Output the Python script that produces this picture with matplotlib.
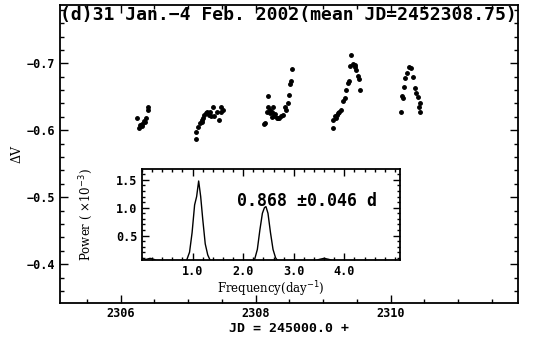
import matplotlib
matplotlib.use('Agg')
import matplotlib.pyplot as plt
from matplotlib.ticker import MultipleLocator, FixedLocator

# light curve: JD - 2450000 and Delta V, one list per night
jd1 = [2306.24, 2306.27, 2306.28, 2306.31, 2306.32, 2306.34, 2306.36, 2306.37, 2306.40, 2306.40]
dv1 = [-0.618, -0.604, -0.608, -0.606, -0.610, -0.614, -0.613, -0.619, -0.630, -0.635]

jd2 = [2307.12, 2307.12, 2307.15, 2307.17, 2307.20, 2307.21, 2307.22, 2307.24, 2307.26, 2307.28,
       2307.31, 2307.33, 2307.34, 2307.37, 2307.39, 2307.43, 2307.46, 2307.48, 2307.49, 2307.51]
dv2 = [-0.587, -0.598, -0.605, -0.611, -0.613, -0.615, -0.618, -0.623, -0.626, -0.628,
       -0.623, -0.627, -0.621, -0.635, -0.621, -0.628, -0.615, -0.634, -0.628, -0.630]

jd3 = [2308.13, 2308.14, 2308.18, 2308.17, 2308.18, 2308.21, 2308.22, 2308.25, 2308.26, 2308.25,
       2308.27, 2308.28, 2308.31, 2308.33, 2308.35, 2308.37, 2308.40, 2308.43, 2308.45, 2308.48,
       2308.50, 2308.51, 2308.53, 2308.54]
dv3 = [-0.609, -0.611, -0.651, -0.628, -0.634, -0.626, -0.630, -0.628, -0.634, -0.620,
       -0.622, -0.625, -0.619, -0.618, -0.619, -0.621, -0.623, -0.635, -0.630, -0.641,
       -0.653, -0.669, -0.674, -0.692]

jd4 = [2309.14, 2309.15, 2309.17, 2309.19, 2309.20, 2309.22, 2309.24, 2309.27, 2309.30, 2309.32,
       2309.34, 2309.37, 2309.39, 2309.40, 2309.42, 2309.44, 2309.47, 2309.48, 2309.49, 2309.52,
       2309.53, 2309.55]
dv4 = [-0.603, -0.615, -0.621, -0.618, -0.623, -0.626, -0.628, -0.630, -0.644, -0.648,
       -0.660, -0.671, -0.673, -0.696, -0.712, -0.699, -0.697, -0.694, -0.690, -0.681,
       -0.676, -0.660]

jd5 = [2310.16, 2310.17, 2310.19, 2310.20, 2310.22, 2310.24, 2310.27, 2310.30, 2310.33, 2310.37,
       2310.38, 2310.40, 2310.42, 2310.44, 2310.44]
dv5 = [-0.628, -0.651, -0.648, -0.664, -0.678, -0.685, -0.694, -0.693, -0.679, -0.663,
       -0.656, -0.649, -0.634, -0.640, -0.628]

# periodogram (inset)
freq = [0.00, 0.08, 0.16, 0.24, 0.32, 0.50, 0.80, 0.88, 0.94, 0.99, 1.04, 1.08, 1.12,
        1.16, 1.20, 1.25, 1.30, 1.35, 1.42, 1.80, 2.15, 2.22, 2.28, 2.33, 2.38, 2.42, 2.45,
        2.49, 2.54, 2.59, 2.64, 2.72, 3.10, 3.40, 3.50, 3.60, 3.70, 3.80, 4.10, 5.10]
power = [0.03, 0.07, 0.09, 0.07, 0.03, 0.00, 0.00, 0.05, 0.20, 0.55, 1.05, 1.20, 1.48,
         1.20, 0.80, 0.35, 0.15, 0.05, 0.00, 0.00, 0.00, 0.05, 0.25, 0.60, 0.90, 1.00, 1.02,
         0.90, 0.55, 0.25, 0.10, 0.00, 0.00, 0.03, 0.07, 0.09, 0.07, 0.03, 0.00, 0.00]
freq_ticks = [1.0, 2.0, 3.0, 4.0]

mono = 'DejaVu Sans Mono'

fig = plt.figure(figsize=(5.33, 3.37), dpi=100)
ax = fig.add_axes([0.1126, 0.1009, 0.8593, 0.8841])
for x, y in [(jd1, dv1), (jd2, dv2), (jd3, dv3), (jd4, dv4), (jd5, dv5)]:
    ax.plot(x, y, 'o', color='black', ms=2.5, mec='black')
ax.set_xlim(2305.1, 2311.89)
ax.set_ylim(-0.342, -0.787)
ax.xaxis.set_major_locator(MultipleLocator(2))
ax.xaxis.set_minor_locator(MultipleLocator(0.5))
ax.yaxis.set_major_locator(MultipleLocator(0.1))
ax.yaxis.set_minor_locator(MultipleLocator(0.02))
ax.yaxis.set_major_formatter(lambda v, p: f"\u2212{abs(v):.1f}")
ax.tick_params(which='both', direction='in', top=True, right=True, width=1.0)
ax.tick_params(which='major', length=6)
ax.tick_params(which='minor', length=3)
ax.tick_params(axis='x', pad=3)
ax.tick_params(labelsize=8.5)
for lab in ax.get_xticklabels() + ax.get_yticklabels():
    lab.set_family(mono)
    lab.set_fontweight('bold')
for s in ax.spines.values():
    s.set_linewidth(1.3)

ax.text(0.0, 0.968, '(d)31 Jan.\u22124 Feb. 2002(mean JD=2452308.75)',
        transform=ax.transAxes, ha='left', va='center',
        family=mono, fontweight='bold', fontsize=13)
ax.set_xlabel('JD = 245000.0 +', family=mono, fontweight='bold', fontsize=9.5, labelpad=1)
ax.set_ylabel('\u0394V', family='DejaVu Serif', fontsize=9, labelpad=2)

# inset periodogram
ins = fig.add_axes([0.2664, 0.2285, 0.4841, 0.2691])
ins.plot(freq, power, color='black', lw=1.0)
ins.set_xlim(0, 5.1)
ins.set_ylim(0.06, 1.69)
ins.xaxis.set_major_locator(FixedLocator(freq_ticks))
ins.xaxis.set_minor_locator(MultipleLocator(0.2))
ins.yaxis.set_major_locator(MultipleLocator(0.5))
ins.yaxis.set_minor_locator(MultipleLocator(0.1))
ins.xaxis.set_major_formatter(lambda v, p: f"{v:.1f}")
ins.yaxis.set_major_formatter(lambda v, p: f"{v:.1f}")
ins.tick_params(which='both', direction='in', top=True, right=True, width=1.0)
ins.tick_params(which='major', length=5)
ins.tick_params(which='minor', length=2.5)
ins.tick_params(labelsize=8.5)
for lab in ins.get_xticklabels() + ins.get_yticklabels():
    lab.set_family(mono)
    lab.set_fontweight('bold')
for s in ins.spines.values():
    s.set_linewidth(1.3)
ins.text(0.37, 0.65, '0.868 \u00b10.046 d', transform=ins.transAxes,
         ha='left', va='center', family=mono, fontweight='bold', fontsize=12)
ins.set_xlabel('Frequency(day$^{-1}$)', family='DejaVu Serif', fontsize=8.5, labelpad=1)
ins.set_ylabel('Power ( \u00d710$^{-3}$)', family='DejaVu Serif', fontsize=8.5, labelpad=15)

fig.savefig('out.png', dpi=100)
